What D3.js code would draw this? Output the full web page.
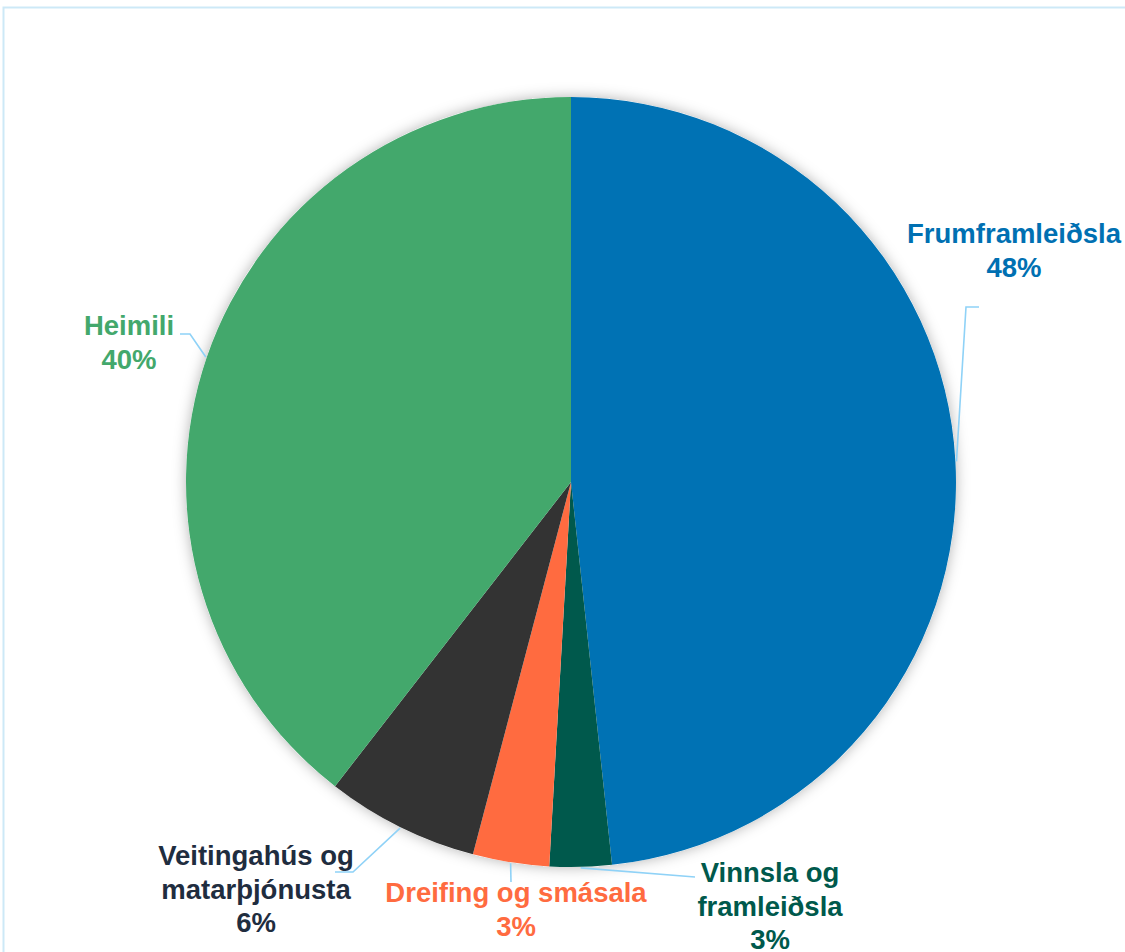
<!DOCTYPE html>
<html><head><meta charset="utf-8">
<script src="https://cdn.jsdelivr.net/npm/d3@7"></script>
<style>html,body{margin:0;padding:0;background:#fff;}svg{display:block;}</style>
</head><body>
<svg id="chart" width="1125" height="952"></svg>
<script>
const categories = ["Frumframleiðsla", "Vinnsla og framleiðsla", "Dreifing og smásala", "Veitingahús og matarþjónusta", "Heimili"];
const values = [48.3, 2.6, 3.2, 6.4, 39.5];
const labelText = ["48%", "3%", "3%", "6%", "40%"];
const colors = ["#0072b4", "#00594c", "#ff6b40", "#333333", "#43a86c"];
const textColors = ["#0070b2", "#00594c", "#ff6b40", "#1f2d3f", "#43a86c"];

// label layout: lines, center x, first baseline, leader line bend/end points
const layout = [
  {lines:["Frumframleiðsla","48%"], x:1014, y:243, lead:[[966,307],[979,307]]},
  {lines:["Vinnsla og","framleiðsla","3%"], x:770, y:882, lead:[[695,877]]},
  {lines:["Dreifing og smásala","3%"], x:516, y:902, lead:[[511,882]]},
  {lines:["Veitingahús og","matarþjónusta","6%"], x:256, y:865, lead:[[353,872],[335,872]]},
  {lines:["Heimili","40%"], x:129, y:335, lead:[[190,334],[180,334]]}
];

const svg = d3.select("#chart");
const cx = 571, cy = 482, R = 385;

svg.append("rect").attr("x",3.5).attr("y",7.5).attr("width",1135).attr("height",960)
  .attr("fill","#fff").attr("stroke","#cde9f7").attr("stroke-width",2);

const defs = svg.append("defs");
const f = defs.append("filter").attr("id","sh").attr("x","-20%").attr("y","-20%").attr("width","140%").attr("height","140%");
f.append("feDropShadow").attr("dx",0).attr("dy",0).attr("stdDeviation",7).attr("flood-color","#000").attr("flood-opacity",0.3);

const pie = d3.pie().sort(null).value(d => d)(values);
const arc = d3.arc().innerRadius(0).outerRadius(R);

const g = svg.append("g").attr("transform",`translate(${cx},${cy})`);
g.append("circle").attr("r",R).attr("fill","#fff").attr("filter","url(#sh)");
g.selectAll("path.slice").data(pie).join("path").attr("class","slice")
  .attr("d",arc).attr("fill",(d,i)=>colors[i]);

// leader lines from slice mid-angle on the pie edge
const line = d3.line();
pie.forEach((d,i) => {
  const L = layout[i];
  const a = (d.startAngle + d.endAngle) / 2;
  const p0 = [cx + Math.sin(a)*(R+1), cy - Math.cos(a)*(R+1)];
  svg.append("path").attr("d", line([p0, ...L.lead]))
    .attr("fill","none").attr("stroke","#8fd2f7").attr("stroke-width",1.6);
});

// labels
layout.forEach((L,i) => {
  const t = svg.append("text").attr("text-anchor","middle")
    .attr("font-family","'Liberation Sans', Arial, sans-serif").attr("font-weight","bold")
    .attr("font-size",27.5).attr("fill",textColors[i]);
  L.lines.forEach((s,j) => t.append("tspan").attr("x",L.x).attr("y",L.y + j*33.5).text(s));
});
</script>
</body></html>
